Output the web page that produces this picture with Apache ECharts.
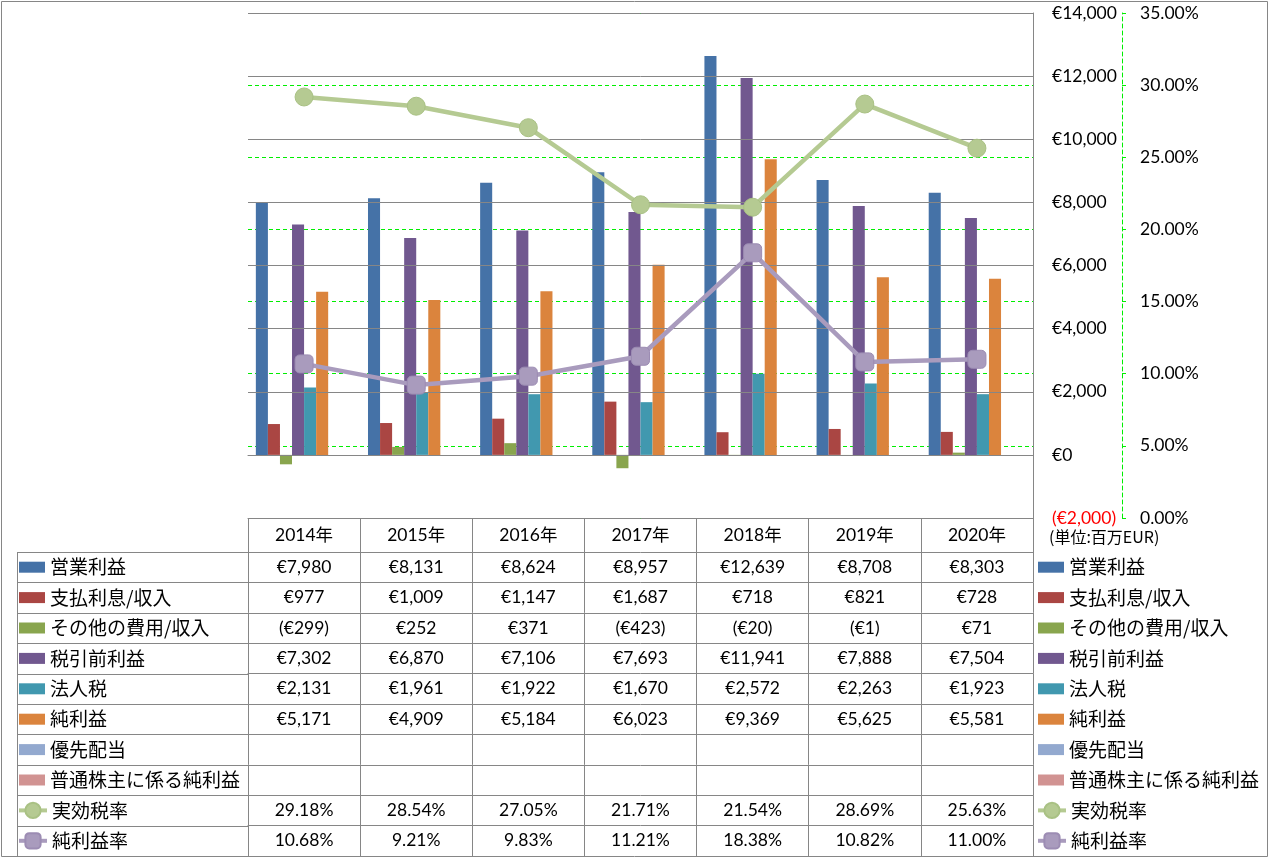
<!DOCTYPE html>
<html><head><meta charset="utf-8">
<script src="https://cdn.jsdelivr.net/npm/echarts@6/dist/echarts.min.js"></script>
<style>html,body{margin:0;padding:0;background:#fff}#c{width:1269px;height:858px}</style>
</head><body><div id="c"></div>
<script>
const categories = ['2014年','2015年','2016年','2017年','2018年','2019年','2020年'];
const opIncome   = [7980, 8131, 8624, 8957, 12639, 8708, 8303];
const interest   = [977, 1009, 1147, 1687, 718, 821, 728];
const otherExp   = [-299, 252, 371, -423, -20, -1, 71];
const preTax     = [7302, 6870, 7106, 7693, 11941, 7888, 7504];
const corpTax    = [2131, 1961, 1922, 1670, 2572, 2263, 1923];
const netIncome  = [5171, 4909, 5184, 6023, 9369, 5625, 5581];
const prefDiv    = [null, null, null, null, null, null, null];
const netCommon  = [null, null, null, null, null, null, null];
const taxRate    = [29.18, 28.54, 27.05, 21.71, 21.54, 28.69, 25.63];
const netMargin  = [10.68, 9.21, 9.83, 11.21, 18.38, 10.82, 11.00];
const barNames   = ['営業利益','支払利息/収入','その他の費用/収入','税引前利益','法人税','純利益','優先配当','普通株主に係る純利益'];
const lineNames  = ['実効税率','純利益率'];
const euroAxis   = {min: -2000, max: 14000, interval: 2000};
const pctAxis    = {min: 0, max: 35, interval: 5};
const unitLabel  = '(単位:百万EUR)';

const barData  = [opIncome, interest, otherExp, preTax, corpTax, netIncome, prefDiv, netCommon];
const lineData = [taxRate, netMargin];
const barColors  = ['#4572A7','#AA4643','#89A54E','#71588F','#4198AF','#DB843D','#93A9CF','#D19392'];
const lineColors = ['#B5CA92','#A99BBD'];

const GRAY = '#868686', GREEN = '#00EE00';
const NUMFONT = 'Lato, "Noto Sans CJK JP", sans-serif';
const JPFONT = '"Noto Sans CJK JP", sans-serif';
const gridL = 248, gridR = 1033, gridT = 13, gridB = 518;
const headerH = 34, rowH = 30.4, labelColL = 17;

function fmtEuro(v){
  if (v === null || v === undefined) return '';
  const s = '€' + Math.abs(v).toLocaleString('en-US');
  return v < 0 ? '(' + s + ')' : s;
}
function fmtPct(v){ return (v === null || v === undefined) ? '' : v.toFixed(2) + '%'; }

const rows = barData.map(d => d.map(fmtEuro)).concat(lineData.map(d => d.map(fmtPct)));

const xAxes = [{
  type: 'category', data: categories, gridIndex: 0, position: 'bottom',
  axisLine: {show: true, onZero: true, lineStyle: {color: GRAY, width: 1}},
  axisTick: {show: false}, axisLabel: {show: false}, splitLine: {show: false}
}, {
  type: 'category', data: categories, gridIndex: 0, position: 'bottom', offset: 0,
  axisLine: {show: true, onZero: false, lineStyle: {color: GRAY, width: 1}},
  axisTick: {show: true, interval: 0, length: headerH, lineStyle: {color: GRAY}},
  axisLabel: {interval: 0, margin: headerH / 2, verticalAlign: 'middle', fontSize: 17.5, fontFamily: NUMFONT, color: '#000'}
}];
rows.forEach((r, i) => {
  xAxes.push({
    type: 'category', data: categories, gridIndex: 0, position: 'bottom', offset: headerH + i * rowH,
    axisLine: {show: true, onZero: false, lineStyle: {color: GRAY, width: 1}},
    axisTick: {show: true, interval: 0, length: rowH, lineStyle: {color: GRAY}},
    axisLabel: {interval: 0, margin: rowH / 2, verticalAlign: 'middle', fontSize: 17.5, fontFamily: NUMFONT, color: '#000',
      formatter: (v, idx) => r[idx]}
  });
});

const series = [];
barNames.forEach((n, i) => series.push({
  type: 'bar', name: n, data: barData[i], barGap: '0%', barCategoryGap: '14%',
  itemStyle: {color: barColors[i]}
}));
lineNames.forEach((n, i) => series.push({
  type: 'line', name: n, data: lineData[i], yAxisIndex: 1,
  symbol: i === 0 ? 'circle' : 'roundRect', symbolSize: 18,
  lineStyle: {width: 4.5, color: lineColors[i]},
  itemStyle: {color: lineColors[i], borderColor: i === 0 ? '#A9C184' : '#9C8CB3', borderWidth: 1}
}));

const tableTop = gridB + headerH;
function barLegend(left){
  return {
    orient: 'vertical', left: left, top: tableTop + rowH / 2 - 11, padding: 0,
    itemWidth: 26, itemHeight: 11, itemGap: rowH - 22, selectedMode: false,
    textStyle: {fontSize: 19, fontFamily: JPFONT, color: '#000', lineHeight: 22},
    data: barNames.map(n => ({name: n, icon: 'rect'}))
  };
}
function lineLegend(left){
  return {
    orient: 'vertical', left: left, top: tableTop + barNames.length * rowH + rowH / 2 - 11, padding: 0,
    itemWidth: 28, itemHeight: 19, itemGap: rowH - 22, selectedMode: false,
    lineStyle: {width: 4},
    textStyle: {fontSize: 19, fontFamily: JPFONT, color: '#000', lineHeight: 22},
    data: lineNames.map(n => ({name: n}))
  };
}

const graphics = [{
  type: 'rect', shape: {x: 1.5, y: 1.5, width: 1266, height: 855}, style: {fill: null, stroke: GRAY, lineWidth: 1}, silent: true
}, {
  type: 'text', left: 1049, top: 529, style: {text: unitLabel, fontSize: 16, fontFamily: JPFONT, fill: '#000'}
}, {
  type: 'line', shape: {x1: labelColL + 0.5, y1: tableTop, x2: labelColL + 0.5, y2: tableTop + rows.length * rowH},
  style: {stroke: GRAY, lineWidth: 1}, silent: true
}];
for (let i = 0; i <= rows.length; i++) {
  const y = Math.round(tableTop + i * rowH) + 0.5;
  graphics.push({type: 'line', shape: {x1: labelColL, y1: y, x2: gridL, y2: y}, style: {stroke: GRAY, lineWidth: 1}, silent: true});
}

const chart = echarts.init(document.getElementById('c'), null, {renderer: 'canvas'});
chart.setOption({
  animation: false,
  backgroundColor: '#fff',
  grid: {left: gridL, right: 1269 - gridR, top: gridT, bottom: 858 - gridB, containLabel: false},
  legend: [barLegend(labelColL + 2), barLegend(1038), lineLegend(labelColL), lineLegend(1036)],
  xAxis: xAxes,
  yAxis: [{
    type: 'value', position: 'right', z: 3, min: euroAxis.min, max: euroAxis.max, interval: euroAxis.interval,
    axisLine: {show: true, lineStyle: {color: GRAY, width: 1}},
    axisTick: {show: false},
    splitLine: {show: true, lineStyle: {color: GRAY, width: 1}},
    axisLabel: {margin: 19, fontSize: 17.5, fontFamily: NUMFONT, color: '#000',
      formatter: v => v < 0 ? '{neg|' + fmtEuro(v) + '}' : fmtEuro(v),
      rich: {neg: {color: '#FF0000', fontSize: 17.5, fontFamily: NUMFONT}}}
  }, {
    type: 'value', position: 'right', offset: 89, z: 1, min: pctAxis.min, max: pctAxis.max, interval: pctAxis.interval,
    axisLine: {show: true, lineStyle: {color: GREEN, width: 1, type: [4, 3]}},
    axisTick: {show: true, length: 4, lineStyle: {color: GREEN}},
    splitLine: {show: true, lineStyle: {color: GREEN, width: 1, type: [4, 3]}},
    axisLabel: {margin: 18, fontSize: 17.5, fontFamily: NUMFONT, color: '#000', formatter: v => v.toFixed(2) + '%'}
  }],
  series: series,
  graphic: graphics
});
</script></body></html>
